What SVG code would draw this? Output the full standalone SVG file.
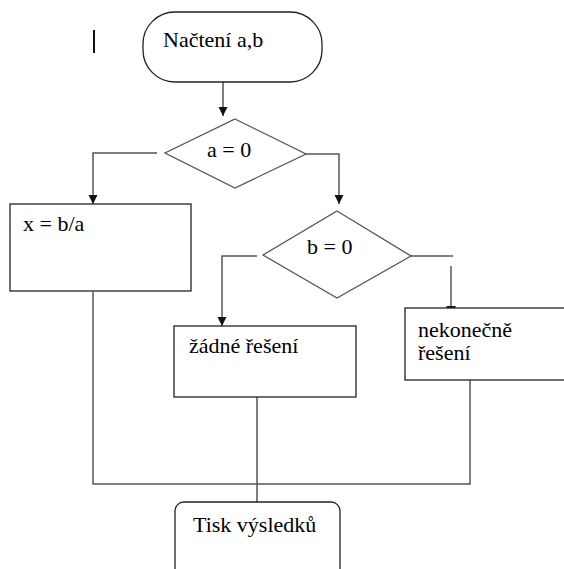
<svg xmlns="http://www.w3.org/2000/svg" width="564" height="569" viewBox="0 0 564 569">
<style>
.box{fill:#fff;stroke:#222;stroke-width:1.3}
.dia{fill:#fff;stroke:#555;stroke-width:1.3}
.ln{fill:none;stroke:#555;stroke-width:1.5}
.t{font-family:"Liberation Serif","Times New Roman",serif;font-size:22px;fill:#000}
</style>
<defs>
<marker id="ah" markerWidth="10" markerHeight="10" refX="9" refY="5" orient="auto" markerUnits="userSpaceOnUse">
<path d="M0,0.5 L9,5 L0,9.5 Z" fill="#111"/>
</marker>
<marker id="flat" markerWidth="10" markerHeight="10" refX="2" refY="5" orient="auto" markerUnits="userSpaceOnUse">
<rect x="0" y="0.5" width="3" height="9" fill="#111"/>
</marker>
</defs>
<rect width="564" height="569" fill="#fff"/>
<line x1="94" y1="30" x2="94" y2="53" stroke="#111" stroke-width="2"/>
<g id="connectors">
<path class="ln" d="M223,82 V116" marker-end="url(#ah)"/>
<path class="ln" d="M157,153 H93 V204" marker-end="url(#ah)"/>
<path class="ln" d="M306,154 H339 V204" marker-end="url(#ah)"/>
<path class="ln" d="M257,256 H222 V326" marker-end="url(#ah)"/>
<path class="ln" d="M411,256 H453"/>
<path class="ln" d="M451,266 V308" marker-end="url(#flat)"/>
<path class="ln" d="M93,292 V484 H470 V380"/>
<path class="ln" d="M257,397 V502"/>
</g>
<g id="start">
<rect class="box" x="143" y="12" width="179" height="70" rx="32" ry="32"/>
<text class="t" x="163" y="47">Načtení a,b</text>
</g>
<g id="dec-a">
<polygon class="dia" points="235,119 306,154 235,188 165,153"/>
<text class="t" x="207" y="157">a = 0</text>
</g>
<g id="calc">
<rect class="box" x="10" y="204" width="181" height="87"/>
<text class="t" x="23" y="231">x = b/a</text>
</g>
<g id="dec-b">
<polygon class="dia" points="337,211 411,256 337,298 263,255"/>
<text class="t" x="307" y="254">b = 0</text>
</g>
<g id="none">
<rect class="box" x="174" y="326" width="182" height="71"/>
<text class="t" x="189" y="353">žádné řešení</text>
</g>
<g id="infinite">
<rect class="box" x="405" y="308" width="170" height="72"/>
<text class="t" x="418" y="337">nekonečně</text>
<text class="t" x="418" y="360">řešení</text>
</g>
<g id="print">
<rect class="box" x="175" y="502" width="165" height="80" rx="9" ry="9"/>
<text class="t" x="193" y="532">Tisk výsledků</text>
</g>
</svg>
